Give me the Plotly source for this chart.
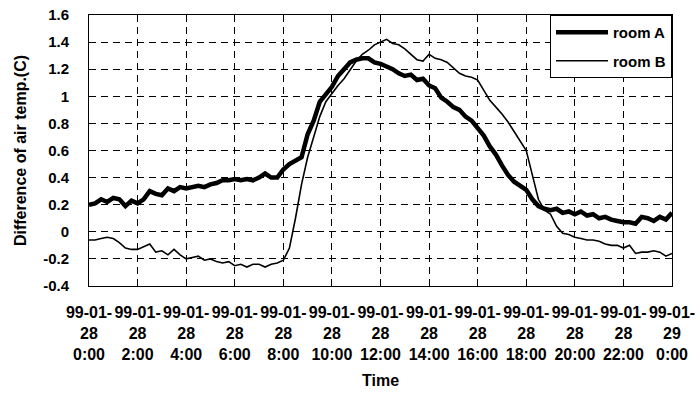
import plotly.graph_objects as go

hours = [i / 4 for i in range(97)]

room_a = [0.20, 0.21, 0.24, 0.22, 0.25, 0.24, 0.19, 0.23, 0.21, 0.24, 0.30, 0.28,
          0.27, 0.32, 0.30, 0.33, 0.32, 0.33, 0.34, 0.33, 0.35, 0.36, 0.38, 0.38,
          0.39, 0.38, 0.39, 0.38, 0.40, 0.43, 0.40, 0.40, 0.46, 0.50, 0.53, 0.55,
          0.72, 0.82, 0.96, 1.02, 1.07, 1.15, 1.20, 1.25, 1.27, 1.28, 1.28, 1.25,
          1.24, 1.22, 1.20, 1.17, 1.15, 1.16, 1.12, 1.13, 1.08, 1.06, 0.99, 0.96,
          0.92, 0.90, 0.85, 0.82, 0.77, 0.71, 0.63, 0.57, 0.49, 0.42, 0.37, 0.34,
          0.31, 0.24, 0.19, 0.17, 0.16, 0.17, 0.14, 0.15, 0.13, 0.15, 0.12, 0.13,
          0.10, 0.11, 0.09, 0.08, 0.07, 0.07, 0.06, 0.11, 0.10, 0.08, 0.11, 0.09,
          0.14]

room_b = [-0.06, -0.06, -0.05, -0.04, -0.05, -0.08, -0.12, -0.13, -0.13, -0.11, -0.09, -0.15,
          -0.14, -0.17, -0.13, -0.17, -0.20, -0.19, -0.18, -0.21, -0.20, -0.22, -0.23, -0.22,
          -0.25, -0.24, -0.26, -0.24, -0.24, -0.26, -0.24, -0.23, -0.21, -0.12, 0.10, 0.35,
          0.55, 0.70, 0.85, 0.96, 1.02, 1.08, 1.13, 1.20, 1.26, 1.31, 1.34, 1.38,
          1.40, 1.42, 1.39, 1.38, 1.35, 1.31, 1.27, 1.26, 1.31, 1.28, 1.27, 1.25,
          1.21, 1.17, 1.15, 1.14, 1.12, 1.04, 0.97, 0.92, 0.87, 0.81, 0.74, 0.67,
          0.60, 0.42, 0.24, 0.16, 0.13, 0.04, -0.01, -0.02, -0.04, -0.05, -0.06, -0.06,
          -0.07, -0.09, -0.10, -0.10, -0.12, -0.10, -0.16, -0.15, -0.15, -0.14, -0.15, -0.18,
          -0.16]

tick_hours = [0, 2, 4, 6, 8, 10, 12, 14, 16, 18, 20, 22, 24]
tick_labels = ["99-01-<br>28<br>0:00", "99-01-<br>28<br>2:00", "99-01-<br>28<br>4:00",
               "99-01-<br>28<br>6:00", "99-01-<br>28<br>8:00", "99-01-<br>28<br>10:00",
               "99-01-<br>28<br>12:00", "99-01-<br>28<br>14:00", "99-01-<br>28<br>16:00",
               "99-01-<br>28<br>18:00", "99-01-<br>28<br>20:00", "99-01-<br>28<br>22:00",
               "99-01-<br>29<br>0:00"]
y_ticks = [-0.4, -0.2, 0, 0.2, 0.4, 0.6, 0.8, 1, 1.2, 1.4, 1.6]
y_labels = ["-0.4", "-0.2", "0", "0.2", "0.4", "0.6", "0.8", "1", "1.2", "1.4", "1.6"]

font_main = "Liberation Sans, Arial, sans-serif"

fig = go.Figure()
fig.add_trace(go.Scatter(x=hours, y=room_a, mode="lines", name="room A", legendgroup="a",
                         line=dict(color="black", width=4.5)))
fig.add_trace(go.Scatter(x=hours, y=room_b, mode="lines", name="room B", legendgroup="b",
                         line=dict(color="black", width=1.6)))

fig.update_layout(
    width=700, height=395,
    margin=dict(l=89, r=28, t=15, b=109),
    paper_bgcolor="white", plot_bgcolor="white",
    font=dict(family=font_main, color="black", size=14),
    showlegend=True,
    legend=dict(x=1, y=1, xanchor="right", yanchor="top",
                bordercolor="black", borderwidth=1, bgcolor="white",
                font=dict(size=15, family=font_main, weight="bold"),
                itemwidth=52, tracegroupgap=6),
    xaxis=dict(range=[0, 24], tickmode="array", tickvals=tick_hours, ticktext=tick_labels,
               showgrid=True, gridcolor="black", griddash="7px,5px", gridwidth=1,
               showline=True, linecolor="black", linewidth=1, mirror=True,
               ticks="", zeroline=False, automargin=False, ticklabelstandoff=12,
               ticklabeloverflow="allow",
               tickfont=dict(size=16, family=font_main, weight="bold"),
               title=dict(text="Time", font=dict(size=16, family=font_main, weight="bold"),
                          standoff=13)),
    yaxis=dict(range=[-0.4, 1.6], tickmode="array", tickvals=y_ticks, ticktext=y_labels,
               showgrid=True, gridcolor="black", griddash="7px,5px", gridwidth=1,
               showline=True, linecolor="black", linewidth=1, mirror=True,
               ticks="", zeroline=False, automargin=False, ticklabelstandoff=16,
               ticklabeloverflow="allow",
               tickfont=dict(size=15, family=font_main, weight="bold"),
               title=dict(text="Difference of air temp.(C)",
                          font=dict(size=16, family=font_main, weight="bold"),
                          standoff=12)),
)

fig.write_html("out.html", config={"displayModeBar": False},
               post_script="document.body.style.margin='0';")
